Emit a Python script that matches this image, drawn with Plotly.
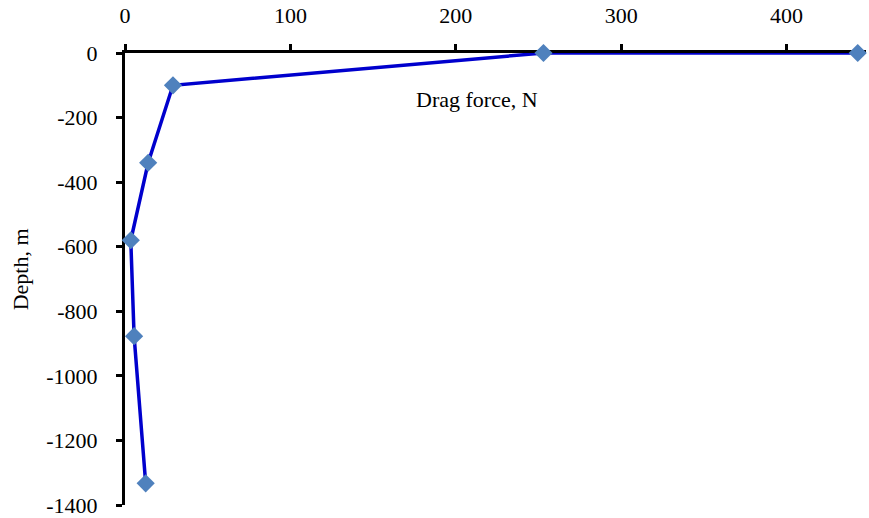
import plotly.graph_objects as go

# Drag force profile along the line, surface to bottom
drag_force = [443, 253, 29, 14, 3.5, 5.5, 12.5]
depth = [0, 0, -100, -340, -580, -877, -1333]

x_ticks = [0, 100, 200, 300, 400]
x_tick_text = ["0", "100", "200", "300", "400"]
y_ticks = [0, -200, -400, -600, -800, -1000, -1200, -1400]
y_tick_text = ["0", "-200", "-400", "-600", "-800", "-1000", "-1200", "-1400"]

serif = "Liberation Serif, Times New Roman, serif"

fig = go.Figure()
fig.add_trace(go.Scatter(
    x=drag_force, y=depth,
    mode="lines+markers",
    line=dict(color="#0000CD", width=3.5),
    marker=dict(symbol="diamond", size=14, color="#4F81BD"),
    cliponaxis=False,
    showlegend=False,
))

fig.update_layout(
    width=869, height=518,
    margin=dict(l=125, r=3, t=53, b=13),
    plot_bgcolor="white", paper_bgcolor="white",
    font=dict(family=serif, size=22, color="black"),
    xaxis=dict(
        side="top", range=[0, 448],
        tickvals=x_ticks, ticktext=x_tick_text,
        showgrid=False, zeroline=False,
        showline=True, linecolor="black", linewidth=3,
        ticks="outside", ticklen=6, tickwidth=3, tickcolor="black",
        ticklabelstandoff=12, ticklabeloverflow="allow",
        automargin=False,
        layer="below traces",
    ),
    yaxis=dict(
        range=[-1400, 0],
        tickvals=y_ticks, ticktext=y_tick_text,
        showgrid=False, zeroline=False,
        showline=True, linecolor="black", linewidth=3,
        ticks="outside", ticklen=6, tickwidth=3, tickcolor="black",
        ticklabelstandoff=14, ticklabeloverflow="allow",
        automargin=False,
        layer="below traces",
    ),
    annotations=[
        dict(
            text="Drag force, N", x=213, y=-145, xref="x", yref="y",
            showarrow=False, font=dict(family=serif, size=22, color="black"),
        ),
        dict(
            text="Depth, m", x=-0.1417, y=-670, xref="paper", yref="y",
            xanchor="center", yanchor="middle",
            textangle=-90, showarrow=False,
            font=dict(family=serif, size=22, color="black"),
        ),
    ],
)

fig.write_html("out.html")
